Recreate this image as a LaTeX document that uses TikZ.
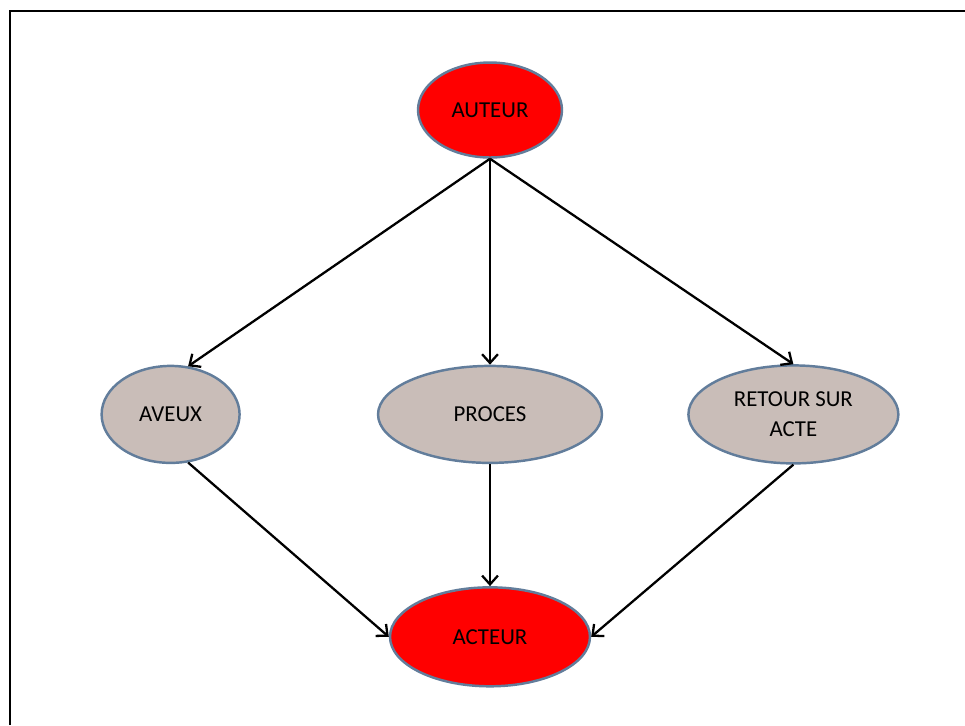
\documentclass[tikz,border=0pt]{standalone}
\usepackage{fontspec}
\setmainfont{Carlito}
\usetikzlibrary{arrows.meta, positioning, shapes.geometric}

\definecolor{redfill}{RGB}{255,0,0}
\definecolor{greyfill}{RGB}{201,189,184}
\definecolor{rimblue}{RGB}{98,125,155}

\begin{document}
\begin{tikzpicture}[x=0.02cm, y=-0.02cm, auto,
    redoval/.style={draw=rimblue, line width=1.4pt, ellipse, fill=redfill, inner sep=0pt,
        font=\fontsize{13}{17}\selectfont},
    greyoval/.style={draw=rimblue, line width=1.4pt, ellipse, fill=greyfill, inner sep=0pt,
        align=center, font=\fontsize{13}{17}\selectfont},
    arrow/.style={-{Straight Barb[length=5pt,width=9pt]}, line width=1.3pt}]
    \useasboundingbox (0,0) rectangle (965,725);
    % Frame
    \draw[line width=1.6pt] (10,725) -- (10,11) -- (965,11);
    % Nodes
    \node[redoval, minimum width=2.88cm, minimum height=1.9cm] (auteur) at (490,110) {AUTEUR};
    \node[greyoval, minimum width=4.48cm, minimum height=1.94cm, below=4.12cm of auteur] (proces) {PROCES};
    \node[greyoval, minimum width=2.76cm, minimum height=1.94cm, left=2.72cm of proces] (aveux) {AVEUX};
    \node[greyoval, minimum width=4.2cm, minimum height=1.96cm, right=1.68cm of proces] (retour) {RETOUR SUR\\ACTE};
    \node[redoval, minimum width=4.0cm, minimum height=1.98cm, below=2.44cm of proces] (acteur) {ACTEUR};

    % Arrows
    \draw[arrow] (auteur.south) -- (aveux.70);
    \draw[arrow] (auteur.south) -- (proces.north);
    \draw[arrow] (auteur.south) -- (retour.north);
    \draw[arrow] (aveux.-70) -- (acteur.west);
    \draw[arrow] (proces.south) -- (acteur.north);
    \draw[arrow] (retour.south) -- (acteur.east);
\end{tikzpicture}
\end{document}
